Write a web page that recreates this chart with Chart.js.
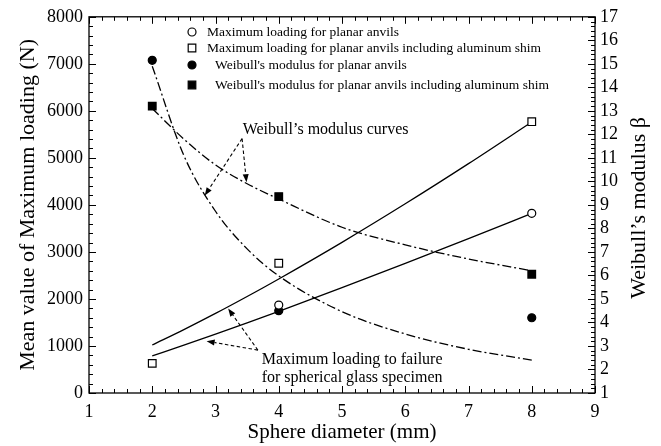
<!DOCTYPE html>
<html>
<head>
<meta charset="utf-8">
<script src="https://cdn.jsdelivr.net/npm/chart.js@4.4.1/dist/chart.umd.min.js"></script>
<style>
  html, body { margin: 0; padding: 0; background: #fff; }
</style>
</head>
<body>
<canvas id="myChart" width="661" height="446"></canvas>
<script>
// measured values
const diameters = [2, 4, 8];
const loadPlanar = [null, 1870, 3820];
const loadShim = [630, 2760, 5770];
const betaPlanar = [15.15, 4.5, 4.2];
const betaShim = [13.2, 9.35, 6.05];

// fitted curves
const fitX = [2, 2.5, 3, 3.5, 4, 5, 6, 7, 8];
const loadPlanarFit = [790, 1018, 1253, 1493, 1738, 2239, 2755, 3283, 3820];
const loadShimFit = [1020, 1348, 1692, 2052, 2425, 3204, 4023, 4877, 5763];
const betaPlanarFit = [14.9, 11.1, 8.73, 7.13, 5.98, 4.46, 3.51, 2.86, 2.4];
const betaShimFit = [13.1, 11.8, 10.7, 9.9, 9.25, 8.05, 7.3, 6.7, 6.2];

const legendLabels = [
  "Maximum loading for planar anvils",
  "Maximum loading for planar anvils including aluminum shim",
  "Weibull's modulus for planar anvils",
  "Weibull's modulus for planar anvils including aluminum shim",
];

const FONT = "'Liberation Serif', 'Times New Roman', serif";

function pts(xs, ys) {
  return xs.map((x, i) => ({ x: x, y: ys[i] })).filter((p) => p.y !== null);
}

// annotation texts and arrows, in data units of x / left y axis
const notes = [
  { text: "Weibull\u2019s modulus curves", x: 3.43, y: 5600, size: 16 },
  { text: "Maximum loading to failure", x: 3.73, y: 700, size: 16 },
  { text: "for spherical glass specimen", x: 3.73, y: 320, size: 16 },
];
const arrows = [
  { from: [3.42, 5410], to: [2.83, 4200] },
  { from: [3.42, 5410], to: [3.49, 4484] },
  { from: [3.67, 912], to: [2.86, 1103] },
  { from: [3.67, 912], to: [3.2, 1797] },
];

function drawArrow(ctx, x0, y0, x1, y1) {
  const ang = Math.atan2(y1 - y0, x1 - x0);
  const hl = 8;
  const ex = x1 - Math.cos(ang) * hl;
  const ey = y1 - Math.sin(ang) * hl;
  ctx.save();
  ctx.lineWidth = 1.1;
  ctx.setLineDash([3.5, 2.5]);
  ctx.beginPath();
  ctx.moveTo(x0, y0);
  ctx.lineTo(ex, ey);
  ctx.stroke();
  ctx.setLineDash([]);
  ctx.beginPath();
  ctx.moveTo(x1, y1);
  ctx.lineTo(ex + Math.sin(ang) * 3, ey - Math.cos(ang) * 3);
  ctx.lineTo(ex - Math.sin(ang) * 3, ey + Math.cos(ang) * 3);
  ctx.closePath();
  ctx.fill();
  ctx.restore();
}

function drawMarker(ctx, style, filled, x, y) {
  ctx.save();
  ctx.lineWidth = 1.2;
  ctx.strokeStyle = "#000";
  ctx.fillStyle = filled ? "#000" : "#fff";
  ctx.beginPath();
  if (style === "circle") {
    ctx.arc(x, y, 4, 0, Math.PI * 2);
  } else {
    ctx.rect(x - 3.8, y - 3.8, 7.6, 7.6);
  }
  ctx.fill();
  ctx.stroke();
  ctx.restore();
}

const framePlugin = {
  id: "frame",
  afterDraw(chart) {
    const { ctx, chartArea: a, scales } = chart;
    const x = scales.x, y = scales.y, y2 = scales.y2;
    ctx.save();
    ctx.strokeStyle = "#000";
    ctx.fillStyle = "#000";
    ctx.lineWidth = 1.3;
    ctx.strokeRect(a.left, a.top, a.right - a.left, a.bottom - a.top);

    // inward ticks, minor every fifth of a major step
    ctx.lineWidth = 1;
    ctx.beginPath();
    for (let i = 0; i <= 40; i++) {
      const px = Math.round(x.getPixelForValue(1 + i * 0.2)) + 0.5;
      const len = i % 5 === 0 ? 7 : 4;
      ctx.moveTo(px, a.bottom); ctx.lineTo(px, a.bottom - len);
      ctx.moveTo(px, a.top); ctx.lineTo(px, a.top + len);
    }
    for (let i = 0; i <= 40; i++) {
      const py = Math.round(y.getPixelForValue(i * 200)) + 0.5;
      const len = i % 5 === 0 ? 7 : 4;
      ctx.moveTo(a.left, py); ctx.lineTo(a.left + len, py);
    }
    for (let i = 0; i <= 80; i++) {
      const py = Math.round(y2.getPixelForValue(1 + i * 0.2)) + 0.5;
      const len = i % 5 === 0 ? 7 : 4;
      ctx.moveTo(a.right, py); ctx.lineTo(a.right - len, py);
    }
    ctx.stroke();

    // right axis title, reading upwards
    ctx.font = "22px " + FONT;
    ctx.textAlign = "center";
    ctx.textBaseline = "middle";
    ctx.translate(a.right + 44, (a.top + a.bottom) / 2 + 3);
    ctx.rotate(-Math.PI / 2);
    ctx.fillText("Weibull\u2019s modulus \u03b2", 0, 0);
    ctx.restore();

    // legend
    ctx.save();
    ctx.font = "13.5px " + FONT;
    ctx.textBaseline = "middle";
    ctx.fillStyle = "#000";
    const rows = [32, 48, 65, 85];
    chart.data.datasets.slice(0, 4).forEach((ds, i) => {
      const filled = ds.backgroundColor === "#000";
      drawMarker(ctx, ds.pointStyle, filled, 192, rows[i]);
      ctx.fillText(ds.label, i < 2 ? 207 : 215, rows[i]);
    });
    ctx.restore();

    // annotations
    ctx.save();
    ctx.fillStyle = "#000";
    ctx.strokeStyle = "#000";
    ctx.textBaseline = "middle";
    notes.forEach((n) => {
      ctx.font = n.size + "px " + FONT;
      ctx.fillText(n.text, x.getPixelForValue(n.x), y.getPixelForValue(n.y));
    });
    arrows.forEach((ar) => {
      drawArrow(ctx,
        x.getPixelForValue(ar.from[0]), y.getPixelForValue(ar.from[1]),
        x.getPixelForValue(ar.to[0]), y.getPixelForValue(ar.to[1]));
    });
    ctx.restore();
  },
};

function markerSet(label, data, style, filled, axis) {
  return {
    label: label,
    data: data,
    yAxisID: axis,
    showLine: false,
    pointStyle: style,
    pointRadius: style === "rect" ? 5.4 : 4,
    pointBorderWidth: 1.2,
    borderColor: "#000",
    backgroundColor: filled ? "#000" : "#fff",
    order: 0,
  };
}

function curveSet(label, data, axis, dash) {
  return {
    label: label,
    data: data,
    yAxisID: axis,
    showLine: true,
    pointRadius: 0,
    borderColor: "#000",
    borderWidth: 1.3,
    borderDash: dash,
    cubicInterpolationMode: "monotone",
    order: 1,
  };
}

const tickFont = { family: FONT, size: 18 };
const plain = (v) => String(v);

const ctx = document.getElementById("myChart").getContext("2d");
new Chart(ctx, {
  type: "scatter",
  data: {
    datasets: [
      markerSet(legendLabels[0], pts(diameters, loadPlanar), "circle", false, "y"),
      markerSet(legendLabels[1], pts(diameters, loadShim), "rect", false, "y"),
      markerSet(legendLabels[2], pts(diameters, betaPlanar), "circle", true, "y2"),
      markerSet(legendLabels[3], pts(diameters, betaShim), "rect", true, "y2"),
      curveSet("fit planar", pts(fitX, loadPlanarFit), "y", []),
      curveSet("fit shim", pts(fitX, loadShimFit), "y", []),
      curveSet("beta planar", pts(fitX, betaPlanarFit), "y2", [9, 3, 2, 3]),
      curveSet("beta shim", pts(fitX, betaShimFit), "y2", [9, 3, 2, 3]),
    ],
  },
  options: {
    responsive: false,
    animation: false,
    layout: { padding: { top: 16, left: 0, right: 0, bottom: 0 } },
    plugins: { legend: { display: false }, tooltip: { enabled: false } },
    scales: {
      x: {
        type: "linear",
        min: 1,
        max: 9,
        grid: { display: false, drawTicks: false },
        border: { display: false },
        ticks: { stepSize: 1, padding: 8, autoSkip: false, color: "#000", font: tickFont, callback: plain },
        title: {
          display: true,
          text: "Sphere diameter (mm)",
          color: "#000",
          font: { family: FONT, size: 21 },
          padding: { top: 0, bottom: 1 },
        },
        afterFit: (s) => { s.height = 53; },
      },
      y: {
        position: "left",
        min: 0,
        max: 8000,
        grid: { display: false, drawTicks: false },
        border: { display: false },
        ticks: { stepSize: 1000, padding: 6, autoSkip: false, color: "#000", font: tickFont, callback: plain },
        title: {
          display: true,
          text: "Mean value of Maximum loading (N)",
          color: "#000",
          font: { family: FONT, size: 22 },
          padding: { top: 15, bottom: 0 },
        },
        afterFit: (s) => { s.width = 89; },
      },
      y2: {
        position: "right",
        min: 1,
        max: 17,
        grid: { display: false, drawTicks: false },
        border: { display: false },
        ticks: { stepSize: 1, padding: 5, autoSkip: false, color: "#000", font: tickFont, callback: plain },
        afterFit: (s) => { s.width = 66; },
      },
    },
  },
  plugins: [framePlugin],
});
</script>
</body>
</html>
